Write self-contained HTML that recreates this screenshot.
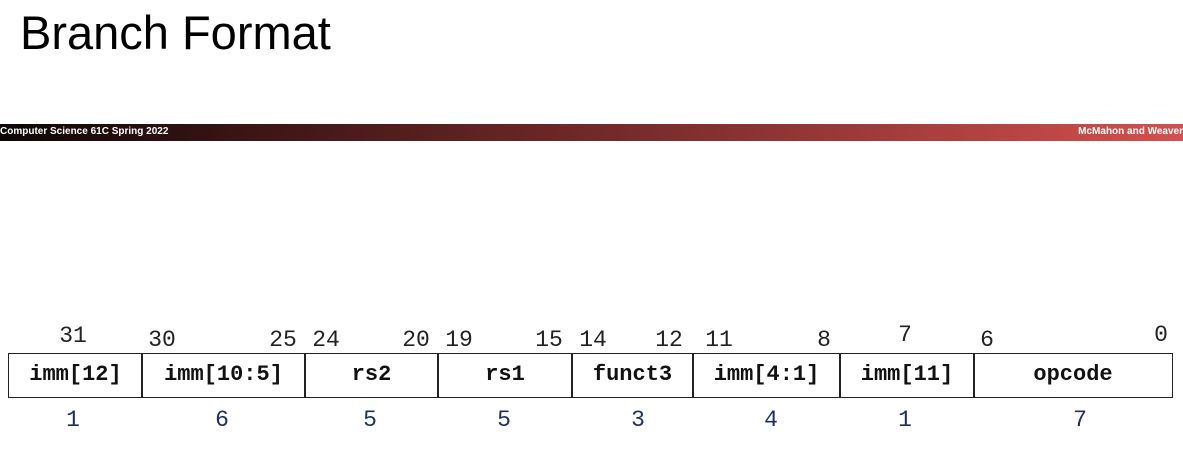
<!DOCTYPE html>
<html><head><meta charset="utf-8"><style>
body{margin:0;width:1183px;height:453px;position:relative;background:#fff;overflow:hidden;font-family:"Liberation Sans",sans-serif}
.t{position:absolute;white-space:nowrap}
.n{position:absolute;font-family:"Liberation Mono",monospace;font-size:23px;color:#222;transform:translateX(-50%);line-height:1}
.b{color:#1f3060}
.c{position:absolute;top:353px;height:45px;box-sizing:border-box;border:1.5px solid #222;font-family:"Liberation Mono",monospace;font-weight:bold;font-size:22px;text-align:center;line-height:42px;color:#111}
</style></head><body>
<div class="t" style="left:20px;top:5px;font-size:47px;color:#000">Branch Format</div>
<div style="position:absolute;left:0;top:124px;width:1183px;height:17px;background:linear-gradient(to right,#0d0606,#3a1414 20%,#7a2c2c 55%,#d4504e)">
<span class="t" style="left:0;top:2px;font-size:10px;font-weight:bold;color:#fff">Computer Science 61C Spring 2022</span>
<span class="t" style="right:0;top:2px;font-size:10px;font-weight:bold;color:#fff">McMahon and Weaver</span>
</div>
<div>
<div class="c" style="left:8px;width:135px">imm[12]</div>
<div class="c" style="left:141px;width:165px">imm[10:5]</div>
<div class="c" style="left:304px;width:135px">rs2</div>
<div class="c" style="left:437px;width:136px">rs1</div>
<div class="c" style="left:571px;width:123px">funct3</div>
<div class="c" style="left:692px;width:149px">imm[4:1]</div>
<div class="c" style="left:839px;width:136px">imm[11]</div>
<div class="c" style="left:973px;width:200px">opcode</div>
</div>
<div>
<span class="n" style="left:73px;top:325px">31</span>
<span class="n" style="left:162px;top:329px">30</span>
<span class="n" style="left:283px;top:329px">25</span>
<span class="n" style="left:326px;top:329px">24</span>
<span class="n" style="left:416px;top:329px">20</span>
<span class="n" style="left:459px;top:329px">19</span>
<span class="n" style="left:549px;top:329px">15</span>
<span class="n" style="left:593px;top:329px">14</span>
<span class="n" style="left:669px;top:329px">12</span>
<span class="n" style="left:719px;top:329px">11</span>
<span class="n" style="left:824px;top:329px">8</span>
<span class="n" style="left:905px;top:324px">7</span>
<span class="n" style="left:987px;top:329px">6</span>
<span class="n" style="left:1161px;top:324px">0</span>
</div>
<div>
<span class="n b" style="left:73px;top:409px">1</span>
<span class="n b" style="left:222px;top:409px">6</span>
<span class="n b" style="left:370px;top:409px">5</span>
<span class="n b" style="left:504px;top:409px">5</span>
<span class="n b" style="left:638px;top:409px">3</span>
<span class="n b" style="left:771px;top:409px">4</span>
<span class="n b" style="left:905px;top:409px">1</span>
<span class="n b" style="left:1080px;top:409px">7</span>
</div>
</body></html>
